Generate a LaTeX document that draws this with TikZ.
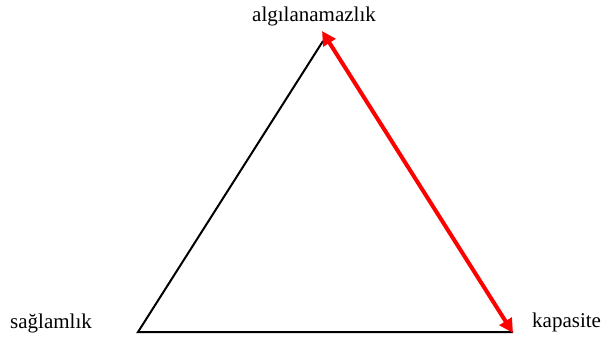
\documentclass[tikz,border=0pt]{standalone}
\usepackage{fontspec}
\setmainfont{Liberation Serif}
\usetikzlibrary{arrows.meta}
\begin{document}
\begin{tikzpicture}[x=1pt,y=-1pt,
  lbl/.style={inner sep=0pt,font=\fontsize{21}{24}\selectfont},
  edge/.style={draw=black,line width=2pt},
  redarrow/.style={draw=red,line width=4pt,{Triangle[length=14pt,width=14pt]}-{Triangle[length=14pt,width=14pt]}}]
\useasboundingbox (0,0) rectangle (601,341);
\coordinate (T) at (322,31);
\coordinate (Tb) at (323,41);
\coordinate (L) at (138,332);
\coordinate (R) at (513,333);
\coordinate (Rb) at (513,332);
\node[lbl,anchor=base] (top) at (314,21) {algılanamazlık};
\node[lbl,anchor=base west] (left) at (10,328) {sağlamlık};
\node[lbl,anchor=base west] (right) at (532,327) {kapasite};
\draw[edge] (Tb) -- (L) -- (Rb);
\draw[redarrow] (T) -- (R);
\end{tikzpicture}
\end{document}
